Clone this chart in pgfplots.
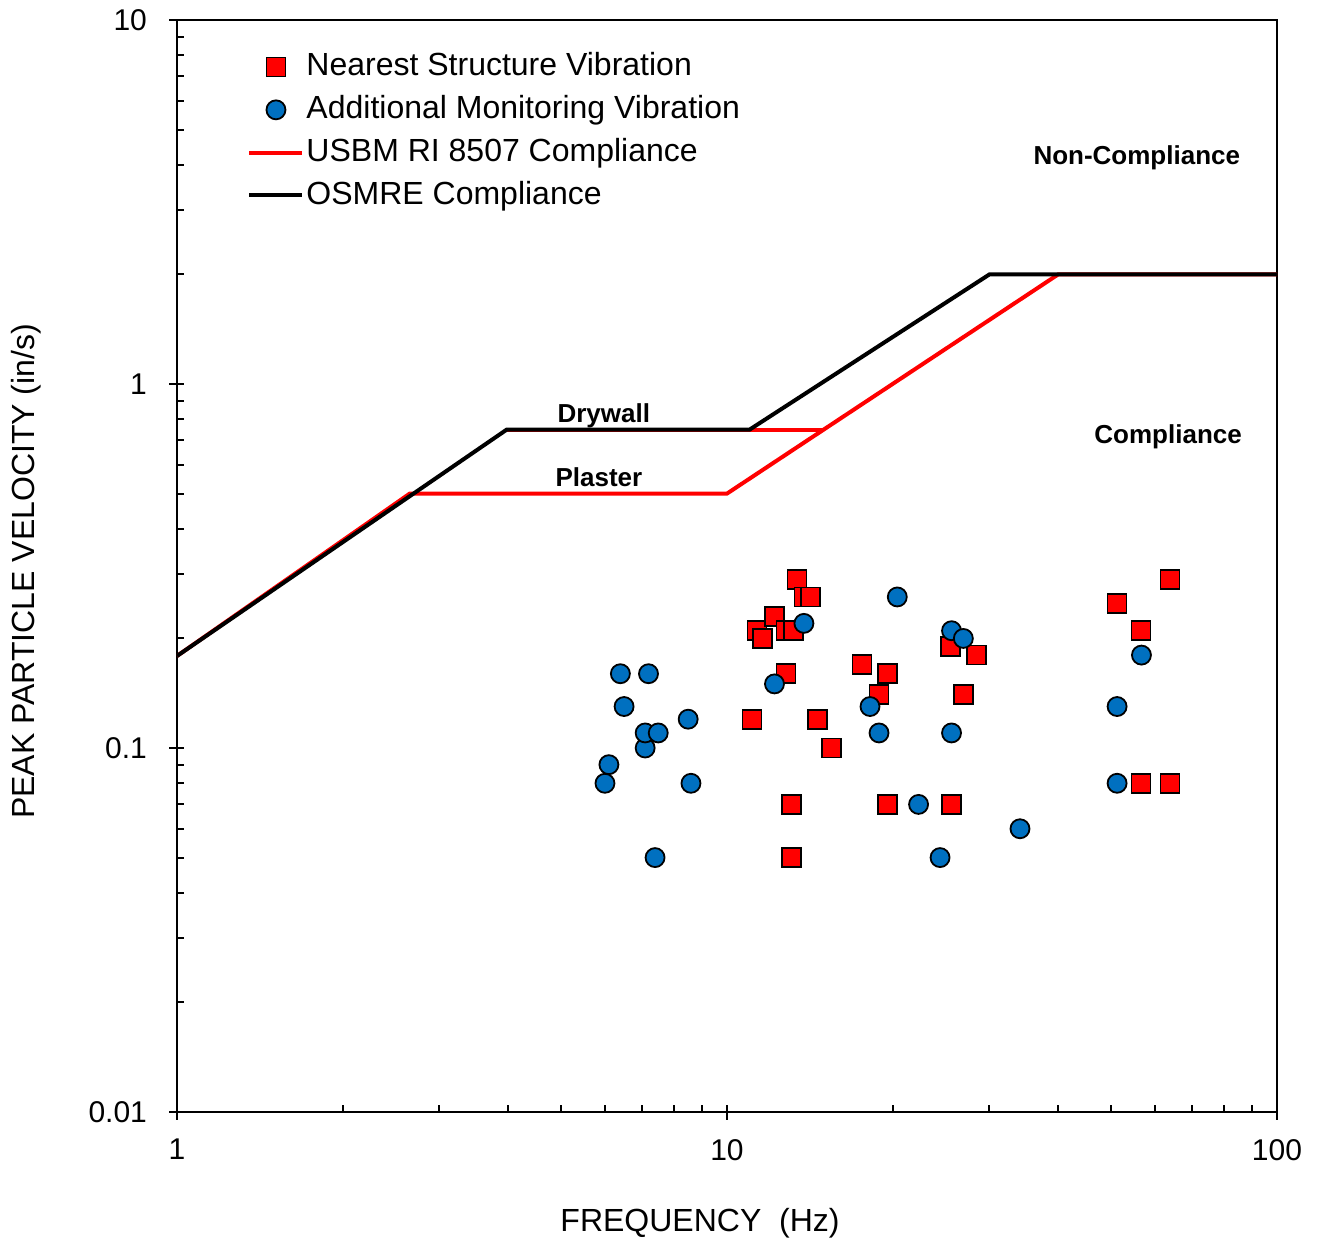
\documentclass[border=0pt]{standalone}
\usepackage{pgfplots}
\pgfplotsset{compat=1.18}
\usepackage{fontspec}
\setmainfont{Liberation Sans}
\definecolor{myred}{RGB}{255,0,0}
\definecolor{myblue}{RGB}{0,112,192}
\begin{document}
\begin{tikzpicture}
\begin{axis}[
  at={(0,0)}, anchor=south west,
  scale only axis, width=550pt, height=546pt,
  xmode=log, ymode=log,
  xmin=1, xmax=100, ymin=0.01, ymax=10,
  xtick={1,10,100}, xticklabels={1,10,100},
  ytick={0.01,0.1,1,10}, yticklabels={0.01,0.1,1,10},
  xtick pos=bottom, ytick pos=left,
  tick align=inside,
  major tick length=-4pt, minor tick length=3.5pt,
  every tick/.style={black, line width=1pt},
  axis line style={line width=1.2pt},
  tick label style={font=\fontsize{15}{18}\selectfont},
  /pgf/number format/assume math mode=true,
  xticklabel style={yshift=-10pt},
  yticklabel style={xshift=-11.5pt},
  xlabel={FREQUENCY\ \ (Hz)},
  ylabel={PEAK PARTICLE VELOCITY (in/s)},
  label style={font=\fontsize{16}{19}\selectfont},
  xlabel style={at={(axis description cs:0.4755,-0.1017)}, anchor=center},
  ylabel style={at={(axis description cs:-0.1373,0.495)}, anchor=center},
  legend style={at={(axis description cs:0.0637,0.9745)}, anchor=north west,
    draw=none, fill=none, inner sep=0pt, row sep=2.6pt,
    font=\fontsize{16}{19}\selectfont,
    nodes={inner sep=1pt, text height=12.8pt, text depth=4pt}},
  legend cell align=left,
  legend image code/.code={\draw[mark repeat=2,mark phase=2,#1] plot coordinates {(0pt,0pt) (13.25pt,0pt) (26.5pt,0pt)};},
]
% red drywall segment (hidden partly by black)
\addplot[myred, line width=2pt, forget plot] coordinates {(3.98,0.75) (15,0.75)};

\addplot[only marks, mark=square*, mark size=4.75pt, mark options={fill=myred, draw=black, line width=0.9pt}] coordinates {
(11.1,0.12) (11.34,0.21) (11.6,0.20) (12.2,0.23) (12.8,0.16) (12.8,0.21) (13.2,0.21)
(13.1,0.07) (13.1,0.05) (13.4,0.29) (13.8,0.26) (14.2,0.26) (14.6,0.12) (15.5,0.10)
(17.6,0.17) (18.9,0.14) (19.6,0.16) (19.6,0.07) (25.5,0.19) (25.6,0.07) (26.9,0.14)
(28.4,0.18) (51.2,0.25) (56.6,0.21) (56.6,0.08) (63.9,0.29) (63.9,0.08)
};
\addlegendentry{Nearest Structure Vibration}

\addplot[only marks, mark=*, mark size=4.75pt, mark options={fill=myblue, draw=black, line width=0.9pt}] coordinates {
(6.0,0.08) (6.1,0.09) (6.4,0.16) (6.5,0.13) (7.1,0.10) (7.1,0.11) (7.2,0.16)
(7.4,0.05) (7.5,0.11) (8.5,0.12) (8.6,0.08) (12.2,0.15) (13.8,0.22) (18.2,0.13)
(18.9,0.11) (20.4,0.26) (22.3,0.07) (24.4,0.05) (25.6,0.21) (25.6,0.11) (26.9,0.20)
(34.1,0.06) (51.2,0.13) (51.2,0.08) (56.7,0.18)
};
\addlegendentry{Additional Monitoring Vibration}

\addplot[myred, line width=2pt] coordinates {(1,0.179) (2.65,0.5) (10,0.5) (40,2) (100,2)};
\addlegendentry{USBM RI 8507 Compliance}

\addplot[black, line width=2pt] coordinates {(1,0.179) (3.98,0.75) (11,0.75) (30,2) (100,2)};
\addlegendentry{OSMRE Compliance}

\node[font=\bfseries\fontsize{13}{15}\selectfont] at (axis cs:5.97,0.816) {Drywall};
\node[font=\bfseries\fontsize{13}{15}\selectfont] at (axis cs:5.85,0.555) {Plaster};
\node[font=\bfseries\fontsize{13}{15}\selectfont] at (axis cs:55.6,4.18) {Non-Compliance};
\node[font=\bfseries\fontsize{13}{15}\selectfont] at (axis cs:63.4,0.715) {Compliance};
\end{axis}
\path (-88.5pt,-63pt) rectangle (570pt,556pt);
\end{tikzpicture}
\end{document}
